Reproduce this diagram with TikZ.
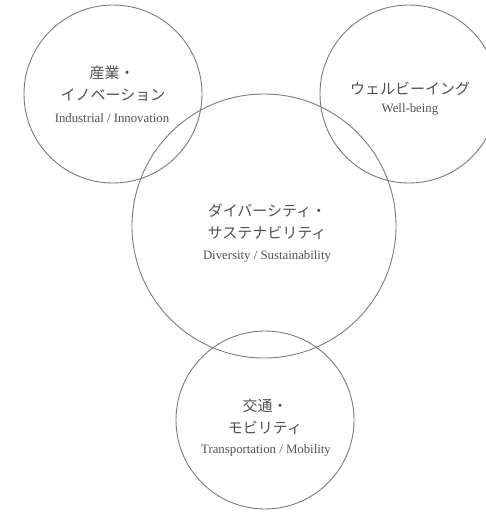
\documentclass[tikz,border=0pt]{standalone}
\usepackage{fontspec}
\setmainfont{Liberation Serif}
\newfontfamily\jp{Noto Sans CJK JP}
\definecolor{ringgray}{HTML}{7A7A7A}
\definecolor{textgray}{HTML}{505050}
\begin{document}
\begin{tikzpicture}[x=1pt,y=-1pt,
  ring/.style={draw=ringgray, line width=0.9pt, circle, inner sep=0pt},
  jptext/.style={font=\jp\fontsize{15}{16}\selectfont, text=textgray, anchor=base, inner sep=0pt},
  entext/.style={font=\fontsize{12.8}{14}\selectfont, text=textgray, anchor=base, inner sep=0pt}]
\useasboundingbox (0,0) rectangle (486,512);
\clip (0,0) rectangle (486,512);
\node[ring, minimum size=178pt] (cTL) at (113,94) {};
\node[ring, minimum size=178pt] (cTR) at (409,94) {};
\node[ring, minimum size=264pt] (cC) at (264,226) {};
\node[ring, minimum size=178pt] (cB) at (265,420) {};
% top-left
\node[jptext] (tl1) at (112,78) {産業・};
\node[jptext] (tl2) at (113,100) {イノベーション};
\node[entext] (tl3) at (112,122) {Industrial / Innovation};
% top-right
\node[jptext] (tr1) at (410,94) {ウェルビーイング};
\node[entext] (tr2) at (410,112) {Well-being};
% centre
\node[jptext] (c1) at (267,216) {ダイバーシティ・};
\node[jptext] (c2) at (267,238) {サステナビリティ};
\node[entext] (c3) at (267,259) {Diversity / Sustainability};
% bottom
\node[jptext] (b1) at (265,411) {交通・};
\node[jptext] (b2) at (265,433) {モビリティ};
\node[entext] (b3) at (266,453) {Transportation / Mobility};
\end{tikzpicture}
\end{document}
